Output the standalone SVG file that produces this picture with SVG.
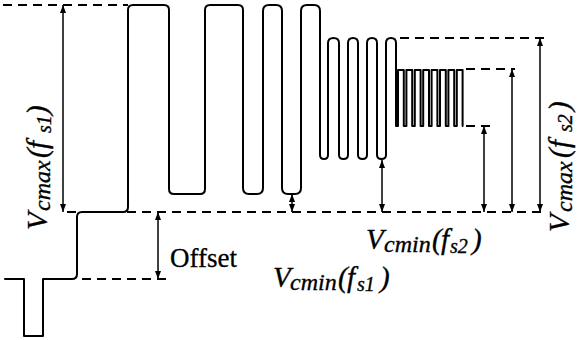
<svg xmlns="http://www.w3.org/2000/svg" width="578" height="340" viewBox="0 0 578 340">
<style>
.sig{fill:none;stroke:#000;stroke-width:2;stroke-linejoin:round;stroke-linecap:round}
.dash{fill:none;stroke:#000;stroke-width:2;stroke-dasharray:9 6}
.arr{fill:none;stroke:#000;stroke-width:1.5;marker-start:url(#ah);marker-end:url(#ah)}
.m{font-family:"Liberation Serif","Times New Roman",serif;font-style:italic;fill:#000;stroke:#000;stroke-width:0.35}
.r{font-family:"Liberation Serif","Times New Roman",serif;fill:#000;stroke:#000;stroke-width:0.3}
</style>
<defs>
<marker id="ah" viewBox="0 0 8 6" refX="8" refY="3" markerWidth="8" markerHeight="6" markerUnits="userSpaceOnUse" orient="auto-start-reverse">
<path d="M0,0 L8,3 L0,6 z" fill="#000"/>
</marker>
</defs>
<rect width="578" height="340" fill="#fff"/>
<g id="signal">
<path class="sig" d="M5,279 H24 V336 H43 V279 H72 Q77,279 77,274 V217 Q77,212 82,212 H123 Q128,212 128,207 V10 Q128,5 133,5 H164 Q169,5 169,10 V189 Q169,194 174,194 H200 Q205,194 205,189 V10 Q205,5 210,5 H238 Q243,5 243,10 V188 Q243,194 249,194 H257 Q263,194 263,188 V11 Q263,5 269,5 H276 Q282,5 282,11 V188 Q282,194 288,194 H295 Q301,194 301,188 V11 Q301,5 307,5 H314 Q320,5 320,11 V155 Q320,159 324,159 Q328,159 328,155 V43 Q328,38 333.5,38 Q339,38 339,43 V155 Q339,159 343.5,159 Q348,159 348,155 V43 Q348,38 353,38 Q358,38 358,43 V155 Q358,159 362.5,159 Q367,159 367,155 V43 Q367,38 372,38 Q377,38 377,43 V155 Q377,159 381.5,159 Q386,159 386,155 V43 Q386,38 391,38 Q396,38 396,43 V126 H398 V70 H403.8 V126 H406.4 V70 H412.2 V126 H414.8 V70 H420.6 V126 H423.2 V70 H429 V126 H431.6 V70 H437.4 V126 H440 V70 H445.8 V126 H448.4 V70 H454.2 V126 H456.8 V70 H462.6 V126"/>
</g>
<g id="guides">
<line class="dash" x1="3" y1="5" x2="128" y2="5"/>
<line class="dash" x1="67" y1="212" x2="546" y2="212"/>
<line class="dash" x1="82" y1="279" x2="168" y2="279"/>
<line class="dash" x1="400" y1="38" x2="546" y2="38"/>
<line class="dash" x1="466" y1="69" x2="515" y2="69"/>
<line class="dash" x1="466" y1="126" x2="492" y2="126"/>
</g>
<g id="connectors">
<line class="arr" x1="63" y1="5" x2="63" y2="212"/>
<line class="arr" x1="158" y1="212" x2="158" y2="279"/>
<line class="arr" x1="292" y1="194" x2="292" y2="212"/>
<line class="arr" x1="382" y1="160" x2="382" y2="212"/>
<line class="arr" x1="484" y1="126" x2="484" y2="212"/>
<line class="arr" x1="512" y1="69" x2="512" y2="212"/>
<line class="arr" x1="540" y1="38" x2="540" y2="212"/>
</g>
<g id="label-vcmax-fs1">
<text class="m" transform="translate(47,230) rotate(-90)"><tspan x="0" y="0" font-size="29">V</tspan><tspan x="19" y="3" font-size="24">cmax</tspan><tspan x="72" y="0" font-size="29">(</tspan><tspan x="81" y="0" font-size="29">f</tspan><tspan x="97" y="4" font-size="20">s1</tspan><tspan x="115" y="0" font-size="29">)</tspan></text>
</g>
<g id="label-vcmax-fs2">
<text class="m" transform="translate(569,232) rotate(-90)"><tspan x="0" y="0" font-size="29">V</tspan><tspan x="20" y="3" font-size="24">cmax</tspan><tspan x="74" y="0" font-size="29">(</tspan><tspan x="84" y="0" font-size="29">f</tspan><tspan x="100" y="3" font-size="20">s2</tspan><tspan x="121" y="0" font-size="29">)</tspan></text>
</g>
<g id="label-offset">
<text class="r" x="170" y="267" font-size="27">Offset</text>
</g>
<g id="label-vcmin-fs2">
<text class="m"><tspan x="366" y="249" font-size="29">V</tspan><tspan x="384" y="252" font-size="24">cmin</tspan><tspan x="432" y="249" font-size="29">(</tspan><tspan x="441" y="249" font-size="29">f</tspan><tspan x="450" y="253" font-size="20">s2</tspan><tspan x="472" y="249" font-size="29">)</tspan></text>
</g>
<g id="label-vcmin-fs1">
<text class="m"><tspan x="273" y="287" font-size="29">V</tspan><tspan x="290" y="290" font-size="24">cmin</tspan><tspan x="338" y="287" font-size="29">(</tspan><tspan x="347" y="287" font-size="29">f</tspan><tspan x="357" y="291" font-size="20">s1</tspan><tspan x="380" y="287" font-size="29">)</tspan></text>
</g>
</svg>
